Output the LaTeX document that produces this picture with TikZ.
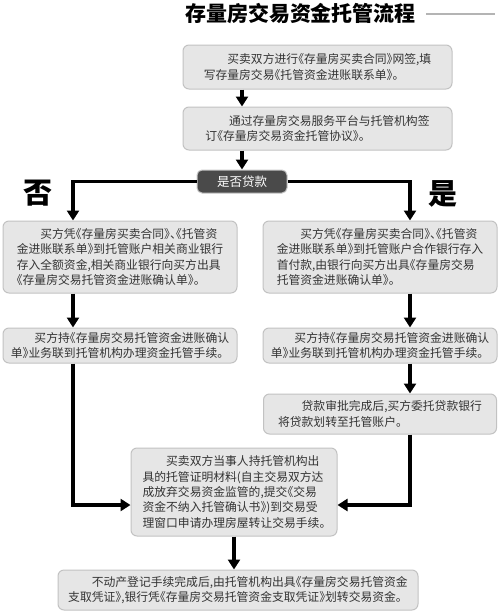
\documentclass[tikz,border=0pt]{standalone}
\usepackage{fontspec}
\setmainfont{Noto Sans CJK SC}[RawFeature=+halt]
\newfontfamily\titlefont{Noto Sans CJK SC}
\usetikzlibrary{positioning,arrows.meta}
\definecolor{boxfill}{HTML}{E6E6E6}
\definecolor{boxline}{HTML}{C2C2C2}
\definecolor{boxtext}{HTML}{333333}
\definecolor{askfill}{HTML}{4A4A4A}
\definecolor{rulegray}{HTML}{B4B4B4}
\tikzset{main node/.style={rectangle, rounded corners=6pt, draw=boxline, line width=1pt, fill=boxfill, text=boxtext, font=\fontsize{11.8}{15.3}\selectfont, align=left, inner sep=4pt},
ask node/.style={rectangle, rounded corners=5pt, draw=gray!45, line width=1pt, fill=askfill, text=white, font=\fontsize{12.5}{14}\selectfont, minimum width=90pt, minimum height=23pt, inner sep=0pt},
flow/.style={-{Triangle[length=10pt,width=12pt]}, line width=3.5pt},
big word/.style={font=\titlefont\fontsize{29}{29}\selectfont\bfseries},}

\begin{document}
\begin{tikzpicture}[x=1pt, y=1pt]
        \useasboundingbox (0,0) rectangle (500,-614);
        % Title
        \node[font=\titlefont\fontsize{21}{21}\selectfont\bfseries] (title) at (300.5,-14) {存量房交易资金托管流程};
        \coordinate (rulestart) at (426,-14);
        \coordinate (ruleend) at (495,-14);
        \draw[rulegray, line width=1.2pt] (rulestart) -- (ruleend);
        % Nodes
        \node[main node, minimum width=269pt, minimum height=44pt] (deal) at (317.5,-67) {\hspace*{2em}买卖双方进行《存量房买卖合同》网签,填\\写存量房交易《托管资金进账联系单》。};
        \node[main node, minimum width=269pt, minimum height=43pt] [below = 17pt of deal] (sign) {\hspace*{2em}通过存量房交易服务平台与托管机构签\\订《存量房交易资金托管协议》。};
        \node[ask node] (loan) at (242,-181.5) {是否贷款};
        \node[big word] (no) at (38,-193) {否};
        \node[big word] (yes) at (443,-194) {是};
        \node[main node, minimum width=234pt, minimum height=72pt] (nocash) at (120,-257) {\hspace*{2em}买方凭《存量房买卖合同》、《托管资\\金进账联系单》到托管账户相关商业银行\\存入全额资金,相关商业银行向买方出具\\《存量房交易托管资金进账确认单》。};
        \node[main node, minimum width=234pt, minimum height=35pt] [below = 34pt of nocash] (nopay) {\hspace*{2em}买方持《存量房交易托管资金进账确认\\单》业务联到托管机构办理资金托管手续。};
        \node[main node, minimum width=234pt, minimum height=72pt] (yescash) at (380,-257) {\hspace*{2em}买方凭《存量房买卖合同》、《托管资\\金进账联系单》到托管账户合作银行存入\\首付款,由银行向买方出具《存量房交易\\托管资金进账确认单》。};
        \node[main node, minimum width=234pt, minimum height=35pt] [below = 34pt of yescash] (yespay) {\hspace*{2em}买方持《存量房交易托管资金进账确认\\单》业务联到托管机构办理资金托管手续。};
        \node[main node, minimum width=233pt, minimum height=40pt] [below = 30pt of yespay] (loanpay) {\hspace*{2em}贷款审批完成后,买方委托贷款银行\\将贷款划转至托管账户。};
        \node[main node, minimum width=206pt, minimum height=88pt] (hand) at (234,-492) {\hspace*{2em}买卖双方当事人持托管机构出\\具的托管证明材料(自主交易双方达\\成放弃交易资金监管的,提交《交易\\资金不纳入托管确认书》)到交易受\\理窗口申请办理房屋转让交易手续。};
        \node[main node, minimum width=360pt, minimum height=40pt] (done) at (238,-590) {\hspace*{2em}不动产登记手续完成后,由托管机构出具《存量房交易托管资金\\支取凭证》,银行凭《存量房交易托管资金支取凭证》划转交易资金。};
        \coordinate (nocol) at (73,0);
        \coordinate (yescol) at (410,0);
        \coordinate (mrow) at (0,-505);
        % Paths
        \draw[flow] (deal.south -| loan) -- (sign.north -| loan);
        \draw[flow] (sign.south -| loan) -- (loan.north);
        \draw[flow] (loan.west) -| (nocash.north -| nocol);
        \draw[flow] (loan.east) -| (yescash.north -| yescol);
        \draw[flow] (nocash.south -| nocol) -- (nopay.north -| nocol);
        \draw[flow] (yescash.south -| yescol) -- (yespay.north -| yescol);
        \draw[flow] (yespay.south -| yescol) -- (loanpay.north -| yescol);
        \draw[flow] (nopay.south -| nocol) |- (hand.west |- mrow);
        \draw[flow] (loanpay.south -| yescol) |- (hand.east |- mrow);
        \draw[flow] (hand.south) -- (done.north -| hand.south);
    \end{tikzpicture}
\end{document}
